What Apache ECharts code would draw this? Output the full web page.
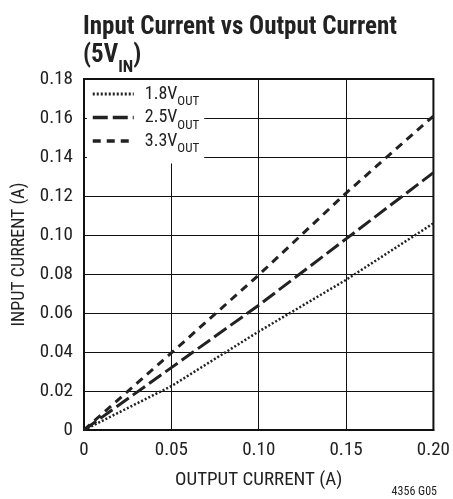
<!DOCTYPE html>
<html><head><meta charset="utf-8">
<script src="https://cdn.jsdelivr.net/npm/echarts@6/dist/echarts.min.js"></script>
<style>html,body{margin:0;padding:0;background:#fff}#c{width:453px;height:499px}</style>
</head><body><div id="c"></div>
<script>
const outputCurrent = [0, 0.05, 0.10, 0.15, 0.20];
const in18 = [0, 0.0225, 0.0505, 0.077, 0.106];
const in25 = [0, 0.032, 0.064, 0.098, 0.132];
const in33 = [0, 0.0395, 0.0795, 0.1215, 0.161];
const seriesNames = ['1.8V', '2.5V', '3.3V'];
const xTicks = ['0', '0.05', '0.10', '0.15', '0.20'];

const FONT = "'Liberation Sans Narrow','Roboto Condensed','DejaVu Sans Condensed',sans-serif";
const pairs = ys => outputCurrent.map((x, i) => [x, ys[i]]);
const chart = echarts.init(document.getElementById('c'));
const lineCol = '#222';
const dashes = [[2, 2], [15, 5], [8, 6]];
const widths = [2.5, 3, 3];
const mk = (i, ys) => ({
  name: seriesNames[i], type: 'line', data: pairs(ys), symbol: 'none', showSymbol: false,
  lineStyle: { color: lineCol, width: widths[i], type: dashes[i] }, itemStyle: { color: lineCol },
  z: 3, animation: false
});
chart.setOption({
  animation: false,
  title: {
    text: 'Input Current vs Output Current\n(5V{s|IN})',
    left: 78, top: 9,
    textStyle: {
      fontFamily: FONT, fontWeight: 'bold', fontSize: 25, color: '#222', lineHeight: 28,
      rich: { s: { fontFamily: FONT, fontWeight: 'bold', fontSize: 17, color: '#222', verticalAlign: 'bottom', lineHeight: 17, padding: [0, 0, -6, 0] } }
    }
  },
  grid: { left: 84, right: 18, top: 79, bottom: 69, show: true, borderColor: '#111', borderWidth: 2, containLabel: false },
  legend: {
    orient: 'vertical', left: 87, top: 80, itemWidth: 41, itemHeight: 14, itemGap: 0,
    backgroundColor: '#fff', padding: [5, 5, 8, 4], borderRadius: 0,
    selectedMode: false,
    data: seriesNames.map((n, i) => ({ name: n, lineStyle: { width: widths[i] + 0.5, type: dashes[i], color: lineCol } })),
    itemStyle: { opacity: 0 },
    formatter: n => n + '{s|OUT}',
    textStyle: { fontFamily: FONT, fontSize: 18, color: '#222', padding: [0, 0, 0, 6], lineHeight: 17,
      rich: { s: { fontFamily: FONT, fontSize: 13, color: '#222', verticalAlign: 'bottom', lineHeight: 13, padding: [0, 0, -6, 0] } } }
  },
  xAxis: {
    type: 'value', min: 0, max: 0.2, interval: 0.05,
    name: 'OUTPUT CURRENT (A)', nameLocation: 'middle', nameGap: 41,
    nameTextStyle: { fontFamily: FONT, fontSize: 19, color: '#222' },
    axisLine: { show: true, lineStyle: { color: '#111', width: 2 } },
    axisTick: { show: false },
    splitLine: { show: true, lineStyle: { color: '#111', width: 1 } },
    axisLabel: { fontFamily: FONT, fontSize: 19, color: '#222', margin: 11,
      formatter: v => xTicks[Math.round(v / 0.05)] }
  },
  yAxis: {
    type: 'value', min: 0, max: 0.18, interval: 0.02,
    name: 'INPUT CURRENT (A)', nameLocation: 'middle', nameGap: 51,
    nameTextStyle: { fontFamily: FONT, fontSize: 18, color: '#222' },
    axisLine: { show: true, lineStyle: { color: '#111', width: 2 } },
    axisTick: { show: false },
    splitLine: { show: true, lineStyle: { color: '#111', width: 1 } },
    axisLabel: { fontFamily: FONT, fontSize: 19, color: '#222', margin: 11,
      formatter: v => v === 0 ? '0' : v.toFixed(2) }
  },
  graphic: [{ type: 'text', right: 16, top: 486,
    style: { text: '4356 G05', fontFamily: FONT, fontSize: 12, fill: '#222' } }],
  series: [mk(0, in18), mk(1, in25), mk(2, in33)]
});
</script></body></html>
